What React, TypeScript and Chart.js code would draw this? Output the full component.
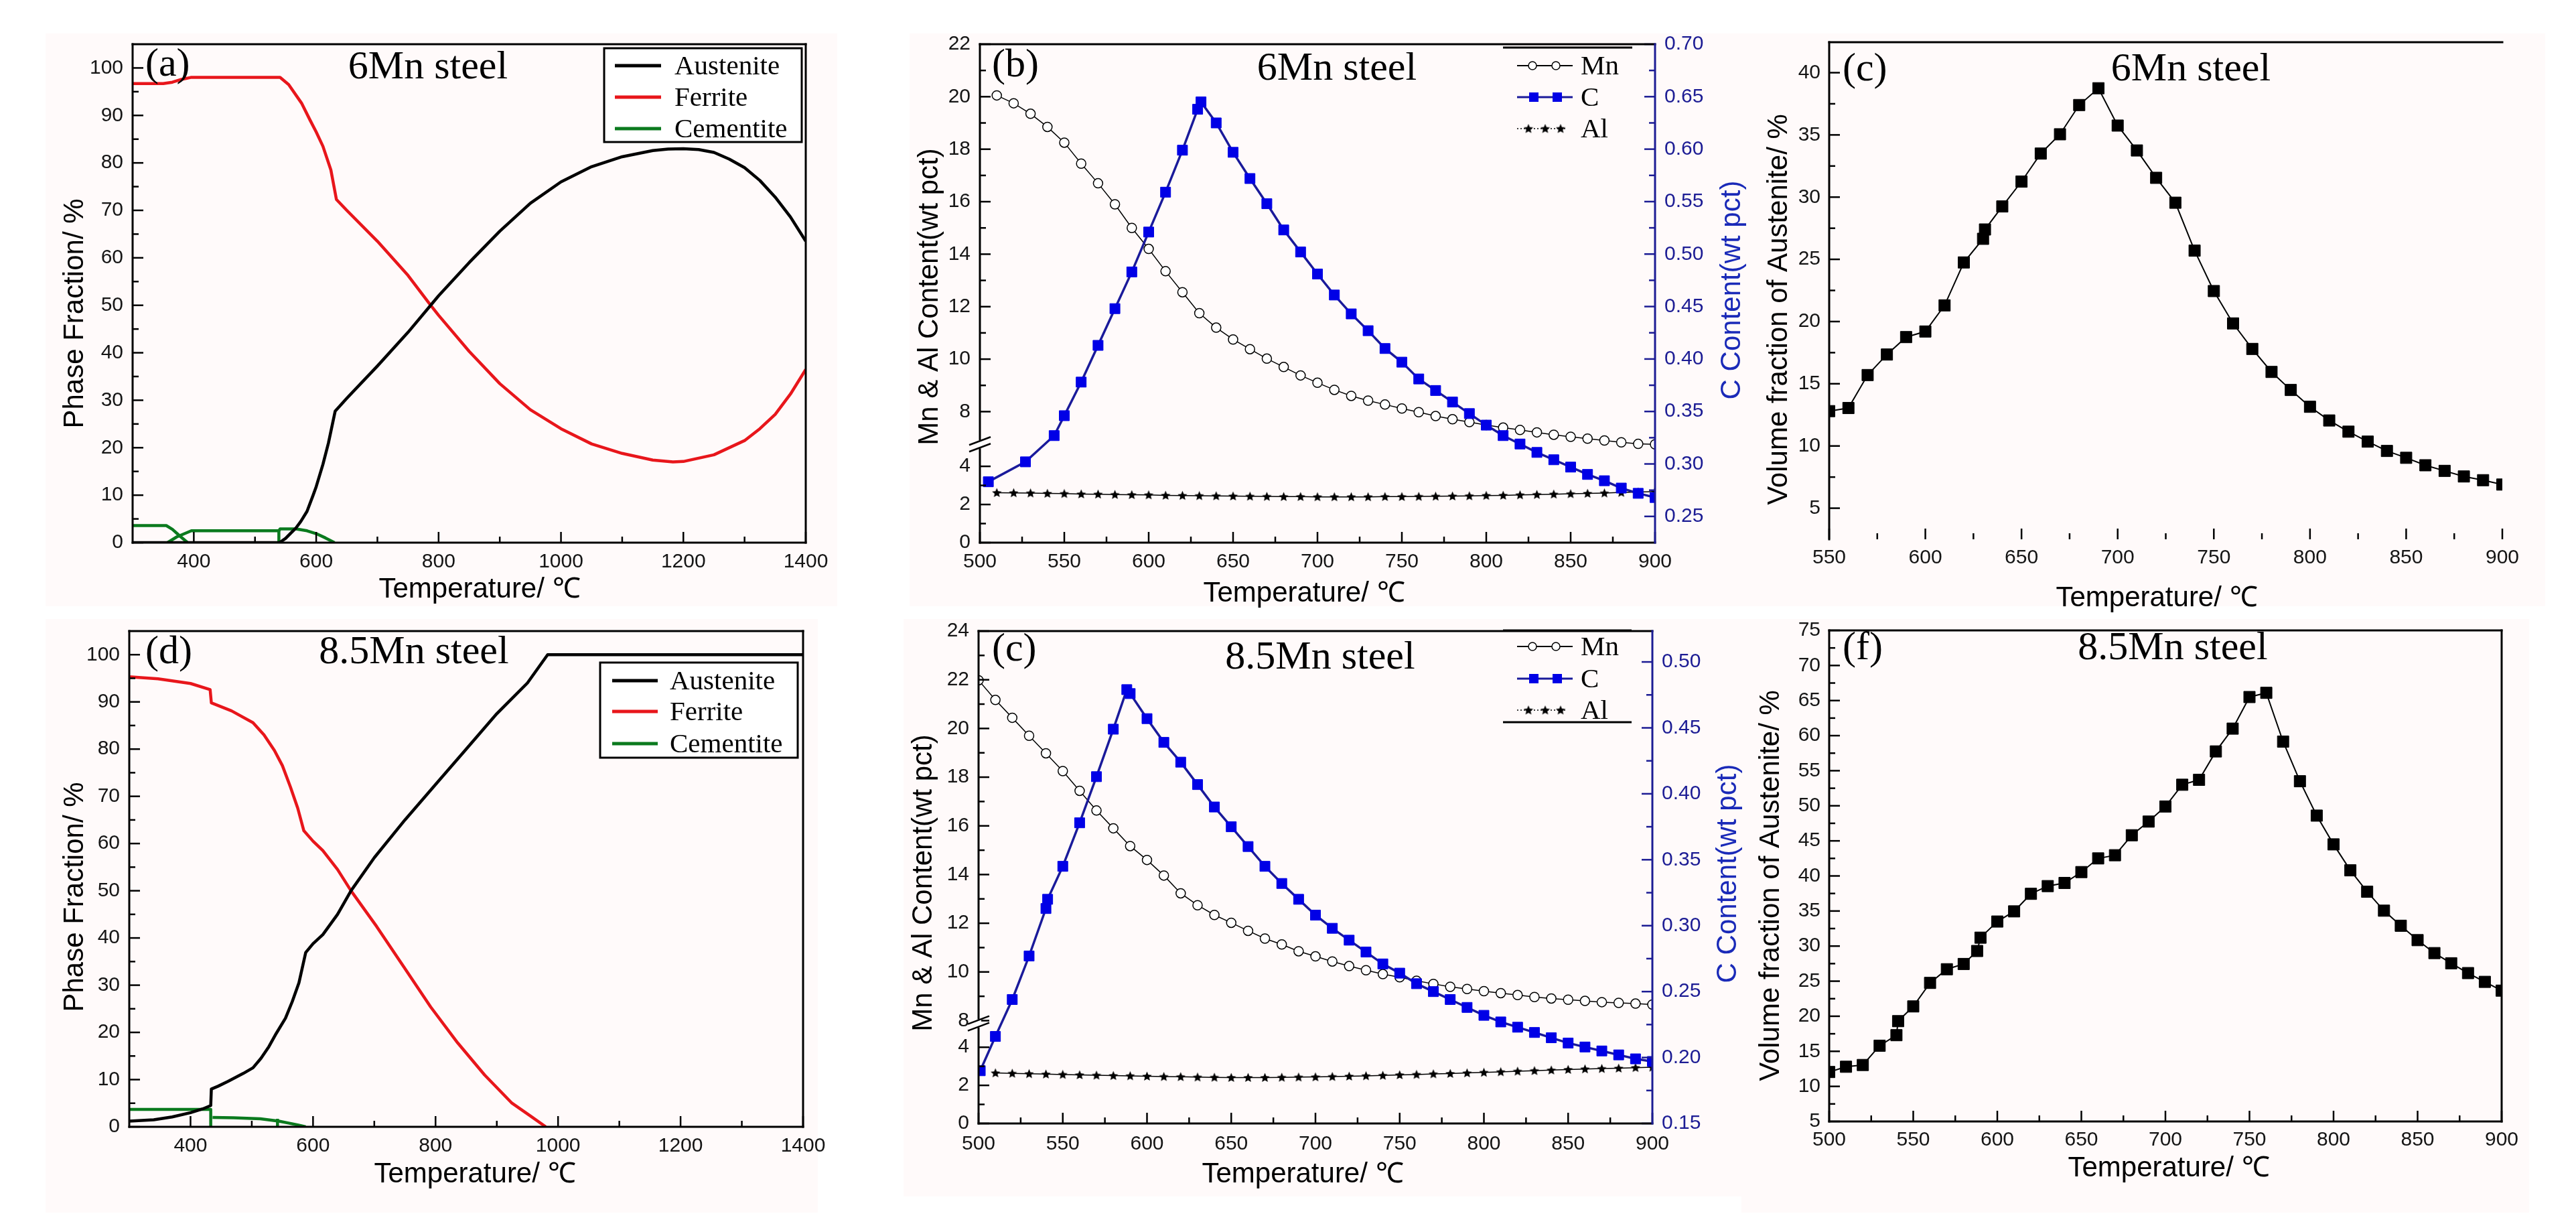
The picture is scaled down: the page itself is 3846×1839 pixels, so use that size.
import React, { useEffect, useRef } from 'react';
import { Chart, registerables, LinearScale } from 'chart.js';

Chart.register(...registerables);

// ---------------- style constants ----------------
const SANS = '"Liberation Sans", Arial, Helvetica, sans-serif';
const SERIF = '"Liberation Serif", "Times New Roman", Times, serif';
const TICK_SIZE = 30;
const TITLE_SIZE = 42;
const LABEL_SIZE = 60;
const LEGEND_SIZE = 41;
const INK = '#000000';
const TICK_INK = '#151515';
const RED = '#e8161b';
const GREEN = '#0b7a1e';
const BLUE_LINE = '#1a1a9a';
const BLUE_PT = '#0000e6';
const BLUE_AXIS = '#1c1c94';
const BLUE_TEXT = '#1a2ab8';
const TINT = '#fffafa';

// ---------------- data: (a) 6Mn steel, phase fractions ----------------
const A_AUS_T = [300, 540, 550, 560, 567, 575, 585, 595, 600, 611, 620, 631, 650, 700, 750, 787, 800, 850, 900, 950, 1000, 1050, 1100, 1150, 1175, 1200, 1225, 1250, 1275, 1300, 1325, 1350, 1375, 1400];
const A_AUS_V = [0, 0, 0.9, 2.2, 3.1, 4.5, 6.6, 10.0, 11.8, 16.5, 21.0, 27.7, 30.4, 37.2, 44.3, 50.0, 52.0, 59.0, 65.6, 71.5, 76.0, 79.2, 81.3, 82.6, 82.9, 83.0, 82.8, 82.2, 80.8, 79.0, 76.3, 72.8, 68.6, 63.5];
const A_FER_T = [300, 350, 365, 380, 395, 541, 555, 576, 590, 600, 611, 624, 633, 650, 700, 750, 787, 800, 850, 900, 950, 1000, 1050, 1100, 1150, 1183, 1200, 1250, 1300, 1325, 1350, 1375, 1400];
const A_FER_V = [96.7, 96.7, 97.0, 97.6, 98.0, 98.0, 96.5, 92.6, 89.0, 86.5, 83.5, 78.5, 72.3, 70.0, 63.5, 56.3, 50.0, 47.9, 40.3, 33.5, 28.0, 24.0, 20.8, 18.8, 17.4, 17.0, 17.1, 18.5, 21.5, 24.0, 27.0, 31.3, 36.5];
const A_CEM1_T = [300, 355, 365, 378, 390];
const A_CEM1_V = [3.6, 3.6, 2.8, 1.3, 0];
const A_CEM2_T = [357, 372, 396, 539, 539];
const A_CEM2_V = [0, 1.2, 2.5, 2.5, 0];
const A_CEM3_T = [539, 541, 567, 585, 600, 615, 630];
const A_CEM3_V = [2.5, 2.9, 2.9, 2.5, 1.9, 1.0, 0];

// ---------------- data: (d) 8.5Mn steel, phase fractions ----------------
const D_AUS_T = [300, 340, 370, 400, 420, 433, 434, 445, 461, 486, 502, 515, 528, 540, 555, 566, 577, 588, 600, 616, 640, 662, 700, 750, 800, 850, 900, 950, 983, 1400];
const D_AUS_V = [1.2, 1.5, 2.1, 3.0, 3.8, 4.5, 8.0, 8.6, 9.6, 11.3, 12.5, 14.5, 17.0, 19.8, 23.0, 26.5, 30.5, 36.9, 38.8, 40.7, 45.0, 50.0, 57.0, 65.0, 72.5, 80.0, 87.5, 94.0, 100, 100];
const D_FER_T = [300, 347, 400, 432, 434, 467, 502, 520, 537, 550, 563, 575, 585, 600, 616, 640, 662, 704, 748, 792, 836, 880, 924, 955, 980];
const D_FER_V = [95.3, 94.9, 93.9, 92.6, 89.8, 88.1, 85.6, 83.0, 79.7, 76.5, 72.0, 67.5, 62.7, 60.5, 58.5, 54.5, 50.0, 42.4, 33.9, 25.4, 17.8, 11.0, 5.1, 2.3, 0];
const D_CEM1_T = [300, 433, 433];
const D_CEM1_V = [3.7, 3.7, 0];
const D_CEM2_T = [436, 470, 514, 544, 560, 575, 588];
const D_CEM2_V = [2.0, 1.9, 1.7, 1.2, 0.8, 0.4, 0];
const D_CEM3_T = [542, 542];
const D_CEM3_V = [0, 1.7];

// ---------------- data: (b) 6Mn steel, Mn / C / Al content ----------------
const B_T10 = [510, 520, 530, 540, 550, 560, 570, 580, 590, 600, 610, 620, 630, 640, 650, 660, 670, 680, 690, 700, 710, 720, 730, 740, 750, 760, 770, 780, 790, 800, 810, 820, 830, 840, 850, 860, 870, 880, 890, 900];
const B_MN_V = [20.05, 19.75, 19.35, 18.85, 18.25, 17.45, 16.7, 15.9, 15.0, 14.2, 13.35, 12.55, 11.75, 11.2, 10.75, 10.38, 10.02, 9.7, 9.38, 9.1, 8.83, 8.6, 8.42, 8.27, 8.12, 7.98, 7.83, 7.71, 7.6, 7.49, 7.39, 7.3, 7.21, 7.12, 7.04, 6.97, 6.9, 6.83, 6.77, 6.71];
const B_AL_V = [2.62, 2.61, 2.6, 2.58, 2.57, 2.55, 2.54, 2.52, 2.51, 2.5, 2.48, 2.47, 2.46, 2.45, 2.44, 2.43, 2.42, 2.41, 2.41, 2.4, 2.4, 2.4, 2.4, 2.41, 2.41, 2.42, 2.43, 2.44, 2.45, 2.47, 2.48, 2.5, 2.52, 2.54, 2.56, 2.58, 2.6, 2.63, 2.65, 2.68];
const B_C_T = [505, 527, 544, 550, 560, 570, 580, 590, 600, 610, 620, 629, 631, 640, 650, 660, 670, 680, 690, 700, 710, 720, 730, 740, 750, 760, 770, 780, 790, 800, 810, 820, 830, 840, 850, 860, 870, 880, 890, 900];
const B_C_V = [0.283, 0.302, 0.327, 0.346, 0.378, 0.413, 0.448, 0.483, 0.521, 0.559, 0.599, 0.638, 0.645, 0.625, 0.597, 0.572, 0.548, 0.523, 0.502, 0.481, 0.461, 0.443, 0.427, 0.410, 0.397, 0.381, 0.370, 0.359, 0.348, 0.337, 0.327, 0.319, 0.311, 0.304, 0.297, 0.290, 0.284, 0.277, 0.272, 0.268];

// ---------------- data: (e) 8.5Mn steel, Mn / C / Al content ----------------
const E_MN_T = [500, 510, 520, 530, 540, 550, 560, 570, 580, 590, 600, 610, 620, 630, 640, 650, 660, 670, 680, 690, 700, 710, 720, 730, 740, 750, 760, 770, 780, 790, 800, 810, 820, 830, 840, 850, 860, 870, 880, 890, 900];
const E_MN_V = [21.98, 21.17, 20.44, 19.7, 18.98, 18.25, 17.44, 16.63, 15.9, 15.17, 14.6, 13.96, 13.23, 12.74, 12.34, 12.02, 11.69, 11.37, 11.13, 10.85, 10.64, 10.43, 10.24, 10.07, 9.91, 9.78, 9.64, 9.51, 9.39, 9.3, 9.21, 9.13, 9.05, 8.97, 8.91, 8.86, 8.81, 8.76, 8.73, 8.7, 8.66];
const E_AL_T = [510, 520, 530, 540, 550, 560, 570, 580, 590, 600, 610, 620, 630, 640, 650, 660, 670, 680, 690, 700, 710, 720, 730, 740, 750, 760, 770, 780, 790, 800, 810, 820, 830, 840, 850, 860, 870, 880, 890, 900];
const E_AL_V = [2.65, 2.63, 2.61, 2.59, 2.57, 2.55, 2.53, 2.51, 2.5, 2.48, 2.46, 2.45, 2.43, 2.42, 2.41, 2.41, 2.41, 2.42, 2.43, 2.44, 2.46, 2.48, 2.5, 2.52, 2.55, 2.57, 2.6, 2.62, 2.65, 2.68, 2.71, 2.74, 2.77, 2.8, 2.83, 2.86, 2.88, 2.9, 2.93, 2.95];
const E_C_T = [501, 510, 520, 530, 540, 541, 550, 560, 570, 580, 588, 590, 600, 610, 620, 630, 640, 650, 660, 670, 680, 690, 700, 710, 720, 730, 740, 750, 760, 770, 780, 790, 800, 810, 820, 830, 840, 850, 860, 870, 880, 890, 900];
const E_C_V = [0.190, 0.216, 0.244, 0.277, 0.313, 0.320, 0.345, 0.378, 0.413, 0.449, 0.479, 0.476, 0.457, 0.439, 0.424, 0.407, 0.390, 0.375, 0.360, 0.345, 0.332, 0.320, 0.308, 0.298, 0.289, 0.280, 0.271, 0.264, 0.256, 0.250, 0.244, 0.238, 0.232, 0.227, 0.223, 0.219, 0.215, 0.211, 0.208, 0.205, 0.202, 0.199, 0.197];

// ---------------- data: (c) 6Mn steel, volume fraction of austenite ----------------
const C_T = [550, 560, 570, 580, 590, 600, 610, 620, 630, 631, 640, 650, 660, 670, 680, 690, 700, 710, 720, 730, 740, 750, 760, 770, 780, 790, 800, 810, 820, 830, 840, 850, 860, 870, 880, 890, 900];
const C_V = [12.8, 13.05, 15.7, 17.35, 18.75, 19.2, 21.3, 24.75, 26.65, 27.4, 29.25, 31.25, 33.5, 35.05, 37.4, 38.75, 35.75, 33.75, 31.55, 29.55, 25.7, 22.45, 19.85, 17.8, 15.95, 14.5, 13.15, 12.05, 11.15, 10.35, 9.6, 9.05, 8.45, 8.0, 7.55, 7.25, 6.9];

// ---------------- data: (f) 8.5Mn steel, volume fraction of austenite ----------------
const F_T = [500, 510, 520, 530, 540, 541, 550, 560, 570, 580, 588, 590, 600, 610, 620, 630, 640, 650, 660, 670, 680, 690, 700, 710, 720, 730, 740, 750, 760, 770, 780, 790, 800, 810, 820, 830, 840, 850, 860, 870, 880, 890, 900];
const F_V = [12.05, 12.8, 13.05, 15.8, 17.3, 19.3, 21.4, 24.75, 26.7, 27.45, 29.3, 31.2, 33.5, 34.95, 37.45, 38.55, 39.0, 40.55, 42.5, 42.95, 45.8, 47.75, 49.9, 53.0, 53.7, 57.75, 61.0, 65.5, 66.1, 59.15, 53.5, 48.6, 44.5, 40.8, 37.75, 35.05, 32.9, 30.85, 29.0, 27.55, 26.15, 24.9, 23.65];

// ---------------- ticks ----------------
const PH_X_TICKS = [400, 600, 800, 1000, 1200, 1400];
const PH_X_MINOR = [500, 700, 900, 1100, 1300];
const PH_Y_TICKS = [0, 10, 20, 30, 40, 50, 60, 70, 80, 90, 100];
const PH_Y_MINOR = [5, 15, 25, 35, 45, 55, 65, 75, 85, 95];
const T500_TICKS = [500, 550, 600, 650, 700, 750, 800, 850, 900];
const T500_MINOR = [525, 575, 625, 675, 725, 775, 825, 875];
const T550_TICKS = [550, 600, 650, 700, 750, 800, 850, 900];
const T550_MINOR = [575, 625, 675, 725, 775, 825, 875];
const B_Y_TICKS = [0, 2, 4, 8, 10, 12, 14, 16, 18, 20, 22];
const B_Y_MINOR = [1, 3, 9, 11, 13, 15, 17, 19, 21];
const B_Y2_TICKS = [0.25, 0.3, 0.35, 0.4, 0.45, 0.5, 0.55, 0.6, 0.65, 0.7];
const B_Y2_MINOR = [0.275, 0.325, 0.375, 0.425, 0.475, 0.525, 0.575, 0.625, 0.675];
const E_Y_TICKS = [0, 2, 4, 8, 10, 12, 14, 16, 18, 20, 22, 24];
const E_Y_MINOR = [1, 3, 9, 11, 13, 15, 17, 19, 21, 23];
const E_Y2_TICKS = [0.15, 0.2, 0.25, 0.3, 0.35, 0.4, 0.45, 0.5];
const E_Y2_MINOR = [0.175, 0.225, 0.275, 0.325, 0.375, 0.425, 0.475];
const C_Y_TICKS = [5, 10, 15, 20, 25, 30, 35, 40];
const C_Y_MINOR = [7.5, 12.5, 17.5, 22.5, 27.5, 32.5, 37.5];
const F_Y_TICKS = [5, 10, 15, 20, 25, 30, 35, 40, 45, 50, 55, 60, 65, 70, 75];
const F_Y_MINOR = [7.5, 12.5, 17.5, 22.5, 27.5, 32.5, 37.5, 42.5, 47.5, 52.5, 57.5, 62.5, 67.5, 72.5];

// broken left axis of (b) and (e): value knots -> fraction of axis height
const BRK_B_V = [0, 5.155, 6.755, 22];
const BRK_B_F = [0, 0.1973, 0.1973, 1];
const BRK_E_V = [0, 5.25, 7.886, 24];
const BRK_E_F = [0, 0.2032, 0.2032, 1];

const PHASE_LABELS = ['Austenite', 'Ferrite', 'Cementite'];
const PHASE_COLORS = [INK, RED, GREEN];
const ELEM_LABELS = ['Mn', 'C', 'Al'];

// ---------------- broken scale ----------------
function interp(x: number, xs: number[], ys: number[]): number {
  const n = xs.length;
  if (x <= xs[0]) return ys[0] + ((x - xs[0]) * (ys[1] - ys[0])) / (xs[1] - xs[0]);
  if (x >= xs[n - 1]) return ys[n - 1] + ((x - xs[n - 1]) * (ys[n - 1] - ys[n - 2])) / (xs[n - 1] - xs[n - 2]);
  for (let i = 0; i < n - 1; i++) {
    if (x >= xs[i] && x <= xs[i + 1]) {
      const d = xs[i + 1] - xs[i];
      return d === 0 ? ys[i] : ys[i] + ((x - xs[i]) * (ys[i + 1] - ys[i])) / d;
    }
  }
  return ys[n - 1];
}

function makeBrokenScale(id: string, kv: number[], kf: number[]) {
  class BrokenScale extends (LinearScale as any) {
    static id = id;
    static defaults = {};
    getPixelForValue(value: any) {
      if (value === null || value === undefined || isNaN(value)) return NaN;
      return (this as any).getPixelForDecimal(interp(+value, kv, kf));
    }
    getValueForPixel(pixel: number) {
      return interp((this as any).getDecimalForPixel(pixel), kf, kv);
    }
  }
  Chart.register(BrokenScale as any);
}
makeBrokenScale('brokenB', BRK_B_V, BRK_B_F);
makeBrokenScale('brokenE', BRK_E_V, BRK_E_F);

// ---------------- helpers ----------------
function pts(T: number[], V: number[]) {
  return T.map((x, i) => ({ x, y: V[i] }));
}
function curve(T: number[], V: number[], color: string, width = 4.5, yAxisID = 'y') {
  return { data: pts(T, V), borderColor: color, borderWidth: width, pointRadius: 0, tension: 0, yAxisID, borderJoinStyle: 'round' };
}
function makeStar(size: number, color: string) {
  const c = document.createElement('canvas');
  c.width = size; c.height = size;
  const g = c.getContext('2d')!;
  g.fillStyle = color;
  g.beginPath();
  const cx = size / 2, cy = size / 2 + 0.5, R = size / 2, r = R * 0.45;
  for (let i = 0; i < 10; i++) {
    const ang = -Math.PI / 2 + (i * Math.PI) / 5;
    const rad = i % 2 === 0 ? R : r;
    g.lineTo(cx + rad * Math.cos(ang), cy + rad * Math.sin(ang));
  }
  g.closePath();
  g.fill();
  return c;
}

type AxisSpec = { type?: string; position: 'left' | 'right' | 'bottom'; min: number; max: number; ticks: number[]; size: number; pad: number; color: string; fmt: (v: number) => string };
function scaleOpts(a: AxisSpec) {
  return {
    type: a.type || 'linear',
    position: a.position,
    min: a.min,
    max: a.max,
    grid: { display: false, drawTicks: false },
    border: { display: false },
    ticks: {
      font: { family: SANS, size: TICK_SIZE },
      color: a.color,
      padding: a.pad,
      autoSkip: false,
      maxRotation: 0,
      minRotation: 0,
      callback: (v: any) => a.fmt(Number(v)),
    },
    afterBuildTicks: (s: any) => { s.ticks = a.ticks.map((value) => ({ value })); },
    afterFit: (s: any) => { if (a.position === 'bottom') s.height = a.size; else s.width = a.size; },
  };
}
const intFmt = (v: number) => String(Math.round(v));
const dec2 = (v: number) => v.toFixed(2);

function commonOptions(padding: any, scales: any) {
  return {
    responsive: false,
    animation: false,
    devicePixelRatio: 1,
    events: [],
    layout: { padding, autoPadding: false },
    plugins: { legend: { display: false }, tooltip: { enabled: false }, title: { display: false } },
    scales,
  };
}

type TickSpec = { axis: string; side: 'left' | 'right' | 'bottom'; major: number[]; minor: number[]; color: string };
type TextSpec = { text: string; x: number; y: number; font: string; color?: string; align?: CanvasTextAlign; baseline?: CanvasTextBaseline; rot?: number };
type DecorSpec = {
  ticks: TickSpec[];
  frame: { left?: string; right?: string; top?: string; bottom?: string };
  texts: TextSpec[];
  brk?: { axis: string; value: number };
  extra?: (ctx: CanvasRenderingContext2D) => void;
};

function line(ctx: CanvasRenderingContext2D, x0: number, y0: number, x1: number, y1: number) {
  ctx.beginPath(); ctx.moveTo(x0, y0); ctx.lineTo(x1, y1); ctx.stroke();
}

function decor(id: string, spec: DecorSpec) {
  return {
    id,
    afterDraw(chart: any) {
      const ctx = chart.ctx as CanvasRenderingContext2D;
      const a = chart.chartArea;
      ctx.save();
      ctx.lineCap = 'butt';
      for (const t of spec.ticks) {
        const s = chart.scales[t.axis];
        ctx.strokeStyle = t.color;
        ctx.lineWidth = 2.5;
        const one = (v: number, len: number) => {
          const p = s.getPixelForValue(v);
          if (t.side === 'bottom') line(ctx, p, a.bottom, p, a.bottom - len);
          else if (t.side === 'left') line(ctx, a.left, p, a.left + len, p);
          else line(ctx, a.right, p, a.right - len, p);
        };
        t.major.forEach((v) => one(v, 16));
        t.minor.forEach((v) => one(v, 9));
      }
      const fw = 3;
      ctx.lineWidth = fw;
      const f = spec.frame;
      if (f.top) { ctx.strokeStyle = f.top; line(ctx, a.left - fw / 2, a.top, a.right + fw / 2, a.top); }
      if (f.bottom) { ctx.strokeStyle = f.bottom; line(ctx, a.left - fw / 2, a.bottom, a.right + fw / 2, a.bottom); }
      if (f.left) { ctx.strokeStyle = f.left; line(ctx, a.left, a.top - fw / 2, a.left, a.bottom + fw / 2); }
      if (f.right) { ctx.strokeStyle = f.right; line(ctx, a.right, a.top - fw / 2, a.right, a.bottom + fw / 2); }
      if (spec.brk) {
        const y = chart.scales[spec.brk.axis].getPixelForValue(spec.brk.value);
        const x = a.left;
        ctx.fillStyle = '#ffffff';
        ctx.fillRect(x - 4, y - 6, 8, 12);
        ctx.strokeStyle = INK;
        ctx.lineWidth = 2.5;
        line(ctx, x - 16, y + 1, x + 16, y - 11);
        line(ctx, x - 16, y + 11, x + 16, y - 1);
      }
      for (const t of spec.texts) {
        ctx.save();
        ctx.font = t.font;
        ctx.fillStyle = t.color || INK;
        ctx.textAlign = t.align || 'center';
        ctx.textBaseline = t.baseline || 'middle';
        ctx.translate(t.x, t.y);
        if (t.rot) ctx.rotate(t.rot);
        ctx.fillText(t.text, 0, 0);
        ctx.restore();
      }
      if (spec.extra) spec.extra(ctx);
      ctx.restore();
    },
  };
}

function boxLegend(ctx: CanvasRenderingContext2D, x0: number, y0: number, x1: number, y1: number, rows: number[], lx0: number, lx1: number, tx: number) {
  ctx.fillStyle = '#ffffff';
  ctx.fillRect(x0, y0, x1 - x0, y1 - y0);
  ctx.strokeStyle = INK;
  ctx.lineWidth = 3;
  ctx.strokeRect(x0, y0, x1 - x0, y1 - y0);
  ctx.font = `${LEGEND_SIZE}px ${SERIF}`;
  ctx.textAlign = 'left';
  ctx.textBaseline = 'middle';
  PHASE_LABELS.forEach((lab, i) => {
    ctx.strokeStyle = PHASE_COLORS[i];
    ctx.lineWidth = 5;
    line(ctx, lx0, rows[i], lx1, rows[i]);
    ctx.fillStyle = INK;
    ctx.fillText(lab, tx, rows[i] + 2);
  });
}

function ruleLegend(ctx: CanvasRenderingContext2D, x0: number, x1: number, rules: number[], rows: number[], star: HTMLCanvasElement) {
  ctx.strokeStyle = INK;
  ctx.lineWidth = 3;
  rules.forEach((y) => line(ctx, x0, y, x1, y));
  const sx0 = x0 + 21, sx1 = x0 + 104, tx = x0 + 116;
  // Mn
  ctx.strokeStyle = INK; ctx.lineWidth = 2;
  line(ctx, sx0, rows[0], sx1, rows[0]);
  [sx0 + 23, sx0 + 58].forEach((cx) => {
    ctx.beginPath(); ctx.arc(cx, rows[0], 6, 0, Math.PI * 2);
    ctx.fillStyle = '#fff'; ctx.fill(); ctx.lineWidth = 1.5; ctx.stroke();
  });
  // C
  ctx.strokeStyle = BLUE_LINE; ctx.lineWidth = 3;
  line(ctx, sx0, rows[1], sx1, rows[1]);
  ctx.fillStyle = BLUE_PT;
  [sx0 + 25, sx0 + 60].forEach((cx) => ctx.fillRect(cx - 7, rows[1] - 7, 14, 14));
  // Al
  ctx.strokeStyle = INK; ctx.lineWidth = 1.5;
  ctx.setLineDash([2, 3]);
  line(ctx, sx0, rows[2], sx1 - 10, rows[2]);
  ctx.setLineDash([]);
  [sx0 + 17, sx0 + 42, sx0 + 65].forEach((cx) => ctx.drawImage(star, cx - star.width / 2, rows[2] - star.height / 2));
  ctx.font = `${LEGEND_SIZE}px ${SERIF}`;
  ctx.fillStyle = INK;
  ctx.textAlign = 'left';
  ctx.textBaseline = 'middle';
  ELEM_LABELS.forEach((lab, i) => ctx.fillText(lab, tx, rows[i] + 2));
}

const titleFont = `${TITLE_SIZE}px ${SANS}`;
const labelFont = `${LABEL_SIZE}px ${SERIF}`;
const TEMP_TITLE = 'Temperature/ \u2103';

// ---------------- phase fraction panels (a), (d) ----------------
function phaseChart(canvas: HTMLCanvasElement, p: any) {
  return new Chart(canvas as any, {
    type: 'line',
    data: {
      datasets: [
        curve(p.ausT, p.ausV, INK),
        curve(p.ferT, p.ferV, RED),
        ...p.cem.map((c: number[][]) => curve(c[0], c[1], GREEN)),
      ],
    } as any,
    options: commonOptions(p.padding, {
      x: scaleOpts({ position: 'bottom', min: 300, max: 1400, ticks: PH_X_TICKS, size: p.xSize, pad: 11, color: TICK_INK, fmt: intFmt }),
      y: scaleOpts({ position: 'left', min: 0, max: 105, ticks: PH_Y_TICKS, size: p.ySize, pad: 14, color: TICK_INK, fmt: intFmt }),
    }) as any,
    plugins: [
      decor('decor', {
        ticks: [
          { axis: 'x', side: 'bottom', major: PH_X_TICKS, minor: PH_X_MINOR, color: INK },
          { axis: 'y', side: 'left', major: PH_Y_TICKS, minor: PH_Y_MINOR, color: INK },
        ],
        frame: { left: INK, right: INK, top: INK, bottom: INK },
        texts: [
          { text: 'Phase Fraction/ %', x: p.yTitle[0], y: p.yTitle[1], font: titleFont, rot: -Math.PI / 2 },
          { text: TEMP_TITLE, x: p.xTitle[0], y: p.xTitle[1], font: titleFont },
          { text: p.tag, x: p.tagPos[0], y: p.tagPos[1], font: labelFont, align: 'left', baseline: 'alphabetic' },
          { text: p.name, x: p.namePos[0], y: p.namePos[1], font: labelFont, baseline: 'alphabetic' },
        ],
        extra: (ctx) => boxLegend(ctx, p.box[0], p.box[1], p.box[2], p.box[3], p.rows, p.lx[0], p.lx[1], p.lx[2]),
      }) as any,
    ],
  });
}

// ---------------- content panels (b), (e) ----------------
function contentChart(canvas: HTMLCanvasElement, p: any) {
  const star = makeStar(15, INK);
  return new Chart(canvas as any, {
    type: 'line',
    data: {
      datasets: [
        {
          data: pts(p.cT, p.cV), yAxisID: 'y2', borderColor: BLUE_LINE, borderWidth: 3.5, tension: 0,
          pointStyle: 'rect', pointRadius: 10.6, pointBackgroundColor: BLUE_PT, pointBorderColor: BLUE_PT, pointBorderWidth: 1,
        },
        {
          data: pts(p.mnT, p.mnV), yAxisID: 'y', borderColor: INK, borderWidth: 1.5, tension: 0,
          pointStyle: 'circle', pointRadius: 7, pointBackgroundColor: '#ffffff', pointBorderColor: INK, pointBorderWidth: 1.5,
        },
        {
          data: pts(p.alT, p.alV), yAxisID: 'y', borderColor: INK, borderWidth: 1.5, tension: 0,
          pointStyle: star, pointRadius: 6,
        },
      ],
    } as any,
    options: commonOptions(p.padding, {
      x: scaleOpts({ position: 'bottom', min: 500, max: 900, ticks: T500_TICKS, size: p.xSize, pad: p.xPad, color: TICK_INK, fmt: intFmt }),
      y: scaleOpts({ type: p.yType, position: 'left', min: 0, max: p.yMax, ticks: p.yTicks, size: p.ySize, pad: 14, color: TICK_INK, fmt: intFmt }),
      y2: scaleOpts({ position: 'right', min: p.y2Min, max: p.y2Max, ticks: p.y2Ticks, size: p.y2Size, pad: 14, color: BLUE_AXIS, fmt: dec2 }),
    }) as any,
    plugins: [
      decor('decor', {
        ticks: [
          { axis: 'x', side: 'bottom', major: T500_TICKS, minor: T500_MINOR, color: INK },
          { axis: 'y', side: 'left', major: p.yTicks, minor: p.yMinor, color: INK },
          { axis: 'y2', side: 'right', major: p.y2Ticks, minor: p.y2Minor, color: BLUE_AXIS },
        ],
        frame: { left: INK, right: BLUE_AXIS, top: INK, bottom: INK },
        brk: { axis: 'y', value: p.brkValue },
        texts: [
          { text: 'Mn & Al Content(wt pct)', x: p.yTitle[0], y: p.yTitle[1], font: titleFont, rot: -Math.PI / 2 },
          { text: 'C Content(wt pct)', x: p.y2Title[0], y: p.y2Title[1], font: titleFont, rot: -Math.PI / 2, color: BLUE_TEXT },
          { text: TEMP_TITLE, x: p.xTitle[0], y: p.xTitle[1], font: titleFont },
          { text: p.tag, x: p.tagPos[0], y: p.tagPos[1], font: labelFont, align: 'left', baseline: 'alphabetic' },
          { text: p.name, x: p.namePos[0], y: p.namePos[1], font: labelFont, baseline: 'alphabetic' },
        ],
        extra: (ctx) => ruleLegend(ctx, p.leg[0], p.leg[1], p.rules, p.rows, star),
      }) as any,
    ],
  });
}

// ---------------- volume fraction panels (c), (f) ----------------
function volumeChart(canvas: HTMLCanvasElement, p: any) {
  return new Chart(canvas as any, {
    type: 'line',
    data: {
      datasets: [
        {
          data: pts(p.T, p.V), borderColor: INK, borderWidth: 2, tension: 0,
          pointStyle: 'rect', pointRadius: 12, pointBackgroundColor: INK, pointBorderColor: INK, pointBorderWidth: 1,
        },
      ],
    } as any,
    options: commonOptions(p.padding, {
      x: scaleOpts({ position: 'bottom', min: p.xMin, max: 900, ticks: p.xTicks, size: p.xSize, pad: 10, color: TICK_INK, fmt: intFmt }),
      y: scaleOpts({ position: 'left', min: p.yMin, max: p.yMax, ticks: p.yTicks, size: p.ySize, pad: 13, color: TICK_INK, fmt: intFmt }),
    }) as any,
    plugins: [
      decor('decor', {
        ticks: [
          { axis: 'x', side: 'bottom', major: p.xTicks, minor: p.xMinor, color: INK },
          { axis: 'y', side: 'left', major: p.yTicks, minor: p.yMinor, color: INK },
        ],
        frame: p.frame,
        texts: [
          { text: 'Volume fraction of Austenite/ %', x: p.yTitle[0], y: p.yTitle[1], font: titleFont, rot: -Math.PI / 2 },
          { text: TEMP_TITLE, x: p.xTitle[0], y: p.xTitle[1], font: titleFont },
          { text: p.tag, x: p.tagPos[0], y: p.tagPos[1], font: labelFont, align: 'left', baseline: 'alphabetic' },
          { text: p.name, x: p.namePos[0], y: p.namePos[1], font: labelFont, baseline: 'alphabetic' },
        ],
      }) as any,
    ],
  });
}

const PANELS = [
  {
    key: 'a', left: 0, top: 0, width: 1250, height: 930,
    make: (c: HTMLCanvasElement) => phaseChart(c, {
      ausT: A_AUS_T, ausV: A_AUS_V, ferT: A_FER_T, ferV: A_FER_V,
      cem: [[A_CEM1_T, A_CEM1_V], [A_CEM2_T, A_CEM2_V], [A_CEM3_T, A_CEM3_V]],
      padding: { left: 0, top: 66, right: 47, bottom: 0 }, xSize: 120, ySize: 198,
      yTitle: [112, 468], xTitle: [716, 880], tag: '(a)', tagPos: [217, 113], name: '6Mn steel', namePos: [639, 117],
      box: [902, 72, 1197, 212], rows: [98, 145, 192], lx: [918, 987, 1007],
    }),
  },
  {
    key: 'b', left: 1250, top: 0, width: 1380, height: 930,
    make: (c: HTMLCanvasElement) => contentChart(c, {
      cT: B_C_T, cV: B_C_V, mnT: B_T10, mnV: B_MN_V, alT: B_T10, alV: B_AL_V,
      padding: { left: 0, top: 66, right: 0, bottom: 0 }, xSize: 120, xPad: 11, ySize: 213, y2Size: 159,
      yType: 'brokenB', yMax: 22, yTicks: B_Y_TICKS, yMinor: B_Y_MINOR, brkValue: BRK_B_V[1],
      y2Min: 0.225, y2Max: 0.7, y2Ticks: B_Y2_TICKS, y2Minor: B_Y2_MINOR,
      yTitle: [138, 443], y2Title: [1336, 433], xTitle: [697, 886],
      tag: '(b)', tagPos: [231, 114], name: '6Mn steel', namePos: [746, 119],
      leg: [994, 1187], rules: [71], rows: [98, 145, 192],
    }),
  },
  {
    key: 'c', left: 2600, top: 0, width: 1246, height: 930,
    make: (c: HTMLCanvasElement) => volumeChart(c, {
      T: C_T, V: C_V, xMin: 550, xTicks: T550_TICKS, xMinor: T550_MINOR,
      yMin: 2.5, yMax: 42.45, yTicks: C_Y_TICKS, yMinor: C_Y_MINOR,
      padding: { left: 0, top: 63, right: 110, bottom: 0 }, xSize: 125, ySize: 131,
      frame: { left: INK, top: INK },
      yTitle: [56, 462], xTitle: [620, 893], tag: '(c)', tagPos: [151, 120], name: '6Mn steel', namePos: [671, 120],
    }),
  },
  {
    key: 'd', left: 0, top: 910, width: 1250, height: 929,
    make: (c: HTMLCanvasElement) => phaseChart(c, {
      ausT: D_AUS_T, ausV: D_AUS_V, ferT: D_FER_T, ferV: D_FER_V,
      cem: [[D_CEM1_T, D_CEM1_V], [D_CEM2_T, D_CEM2_V], [D_CEM3_T, D_CEM3_V]],
      padding: { left: 0, top: 27, right: 51, bottom: 0 }, xSize: 157, ySize: 193,
      yTitle: [112, 429], xTitle: [709, 843], tag: '(d)', tagPos: [217, 80], name: '8.5Mn steel', namePos: [618, 80],
      box: [896, 79, 1191, 221], rows: [106, 152, 200], lx: [914, 982, 1000],
    }),
  },
  {
    key: 'e', left: 1250, top: 910, width: 1380, height: 929,
    make: (c: HTMLCanvasElement) => contentChart(c, {
      cT: E_C_T, cV: E_C_V, mnT: E_MN_T, mnV: E_MN_V, alT: E_AL_T, alV: E_AL_V,
      padding: { left: 0, top: 24, right: 0, bottom: 0 }, xSize: 162, xPad: 13, ySize: 211, y2Size: 163,
      yType: 'brokenE', yMax: 24, yTicks: E_Y_TICKS, yMinor: E_Y_MINOR, brkValue: BRK_E_V[1],
      y2Min: 0.15, y2Max: 0.5234, y2Ticks: E_Y2_TICKS, y2Minor: E_Y2_MINOR,
      yTitle: [129, 408], y2Title: [1330, 394], xTitle: [695, 843],
      tag: '(c)', tagPos: [231, 76], name: '8.5Mn steel', namePos: [721, 88],
      leg: [994, 1186], rules: [31, 168], rows: [55, 103, 150],
    }),
  },
  {
    key: 'f', left: 2600, top: 910, width: 1246, height: 929,
    make: (c: HTMLCanvasElement) => volumeChart(c, {
      T: F_T, V: F_V, xMin: 500, xTicks: T500_TICKS, xMinor: T500_MINOR,
      yMin: 5, yMax: 75, yTicks: F_Y_TICKS, yMinor: F_Y_MINOR,
      padding: { left: 0, top: 21, right: 111, bottom: 0 }, xSize: 165, ySize: 131,
      frame: { left: INK, top: INK, right: INK, bottom: INK },
      yTitle: [44, 412], xTitle: [638, 834], tag: '(f)', tagPos: [151, 74], name: '8.5Mn steel', namePos: [644, 74],
    }),
  },
];

// faint tinted panel backgrounds of the scanned figure: [left, top, width, height]
const TINT_RECTS = [
  [68, 50, 1182, 855],
  [1358, 50, 1242, 855],
  [2600, 50, 1200, 855],
  [68, 924, 1153, 886],
  [1349, 924, 1251, 862],
  [2600, 924, 1176, 886],
];

function Panel({ left, top, width, height, make }: any) {
  const ref = useRef<HTMLCanvasElement>(null);
  useEffect(() => {
    const chart = make(ref.current!);
    return () => chart.destroy();
  }, []);
  return (
    <canvas
      ref={ref}
      width={width}
      height={height}
      style={{ position: 'absolute', left, top, width, height, display: 'block' }}
    />
  );
}

export default function App() {
  return (
    <div style={{ position: 'absolute', left: 0, top: 0, width: 3846, height: 1839, background: '#ffffff', overflow: 'hidden' }}>
      {TINT_RECTS.map((r, i) => (
        <div key={'t' + i} style={{ position: 'absolute', left: r[0], top: r[1], width: r[2], height: r[3], background: TINT }} />
      ))}
      {PANELS.map((p) => (
        <Panel key={p.key} left={p.left} top={p.top} width={p.width} height={p.height} make={p.make} />
      ))}
    </div>
  );
}
